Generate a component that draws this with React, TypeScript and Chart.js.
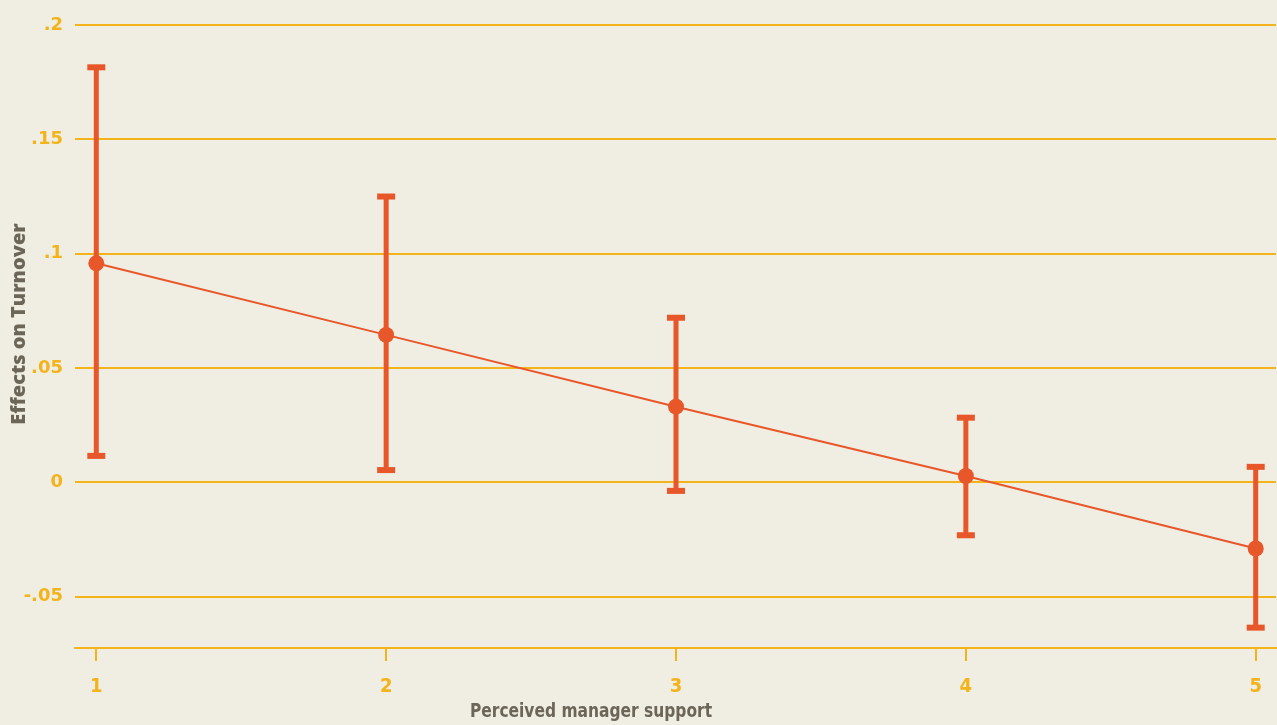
import React, { useEffect, useRef } from "react";
import { Chart, registerables } from "chart.js";

Chart.register(...registerables);

// Data
const supportLevels = [1, 2, 3, 4, 5];
const effects = [0.0958, 0.0645, 0.0331, 0.0028, -0.0289];
const upperCI = [0.1815, 0.125, 0.072, 0.0283, 0.0068];
const lowerCI = [0.0116, 0.0054, -0.0037, -0.0231, -0.0635];
const yTickValues = [-0.05, 0, 0.05, 0.1, 0.15, 0.2];
const yTickLabels = ["-.05", "0", ".05", ".1", ".15", ".2"];
const xTickLabels = ["1", "2", "3", "4", "5"];
const xTitle = "Perceived manager support";
const yTitle = "Effects on Turnover";

const BG = "#f0ede2";
const GOLD = "#f3b31b";
const ORANGE = "#e8572a";
const GRAY = "#6c6659";
const CONDENSED = "'DejaVu Sans Condensed', 'Open Sans', sans-serif";
const ROUND = "'Open Sans', 'Lato', sans-serif";
const WIDE = "'DejaVu Sans', 'Open Sans', sans-serif";

const errorBarPlugin = {
  id: "errorBars",
  beforeDatasetsDraw(chart: any) {
    const { ctx, scales } = chart;
    const xs = scales.x;
    const ys = scales.y;
    ctx.save();
    ctx.strokeStyle = ORANGE;
    ctx.fillStyle = ORANGE;
    ctx.lineWidth = 5;
    for (let i = 0; i < supportLevels.length; i++) {
      const x = xs.getPixelForValue(supportLevels[i]);
      const yt = ys.getPixelForValue(upperCI[i]);
      const yb = ys.getPixelForValue(lowerCI[i]);
      ctx.beginPath();
      ctx.moveTo(x, yt);
      ctx.lineTo(x, yb);
      ctx.stroke();
      ctx.fillRect(x - 9, yt - 3, 18, 6);
      ctx.fillRect(x - 9, yb - 3, 18, 6);
    }
    ctx.restore();
  },
};

const axisTitlePlugin = {
  id: "axisTitles",
  afterDraw(chart: any) {
    const { ctx } = chart;
    ctx.save();
    ctx.fillStyle = GRAY;
    ctx.textAlign = "center";
    ctx.textBaseline = "alphabetic";
    ctx.save();
    ctx.translate(591, 717);
    ctx.scale(0.86, 1);
    ctx.font = `bold 20px ${CONDENSED}`;
    ctx.fillText(xTitle, 0, 0);
    ctx.restore();
    ctx.translate(25, 324);
    ctx.rotate(-Math.PI / 2);
    ctx.font = `800 20px ${ROUND}`;
    ctx.fillText(yTitle, 0, 0);
    ctx.restore();
  },
};

export default function App() {
  const ref = useRef<HTMLCanvasElement | null>(null);

  useEffect(() => {
    if (!ref.current) return;
    const chart = new Chart(ref.current, {
      type: "line",
      data: {
        datasets: [
          {
            data: supportLevels.map((x, i) => ({ x, y: effects[i] })),
            borderColor: ORANGE,
            borderWidth: 2,
            pointRadius: 8,
            pointBackgroundColor: ORANGE,
            pointBorderWidth: 0,
            pointHoverRadius: 8,
            tension: 0,
            clip: false,
          },
        ],
      },
      options: {
        responsive: false,
        animation: false,
        layout: { autoPadding: false, padding: { top: 25, right: 1, left: 0, bottom: 0 } },
        plugins: {
          legend: { display: false },
          tooltip: { enabled: false },
        },
        scales: {
          x: {
            type: "linear",
            min: 0.9265,
            max: 5.07,
            afterBuildTicks: (scale: any) => {
              scale.ticks = supportLevels.map((v) => ({ value: v }));
            },
            afterFit: (scale: any) => {
              scale.height = 77;
              scale.paddingLeft = 0;
              scale.paddingRight = 0;
            },
            grid: {
              display: true,
              drawOnChartArea: false,
              drawTicks: true,
              tickLength: 13,
              tickWidth: 2,
              tickColor: GOLD,
              color: GOLD,
              lineWidth: 2,
            },
            border: { display: true, color: GOLD, width: 2 },
            ticks: {
              padding: 14,
              color: GOLD,
              font: { family: CONDENSED, weight: "bold", size: 20 },
              callback: (_v: any, i: number) => xTickLabels[i],
              maxRotation: 0,
              autoSkip: false,
            },
          },
          y: {
            type: "linear",
            min: -0.0724,
            max: 0.2,
            afterBuildTicks: (scale: any) => {
              scale.ticks = yTickValues.map((v) => ({ value: v }));
            },
            afterFit: (scale: any) => {
              scale.width = 75;
            },
            grid: {
              display: true,
              drawTicks: false,
              color: GOLD,
              lineWidth: 2,
            },
            border: { display: false },
            ticks: {
              padding: 12,
              color: GOLD,
              font: { family: WIDE, weight: "bold", size: 18 },
              callback: (_v: any, i: number) => yTickLabels[i],
              autoSkip: false,
            },
          },
        },
      },
      plugins: [errorBarPlugin, axisTitlePlugin],
    });
    return () => chart.destroy();
  }, []);

  return (
    <div
      style={{
        position: "fixed",
        left: 0,
        top: 0,
        width: 1277,
        height: 725,
        background: BG,
      }}
    >
      <canvas ref={ref} width={1277} height={725} style={{ display: "block" }} />
    </div>
  );
}
